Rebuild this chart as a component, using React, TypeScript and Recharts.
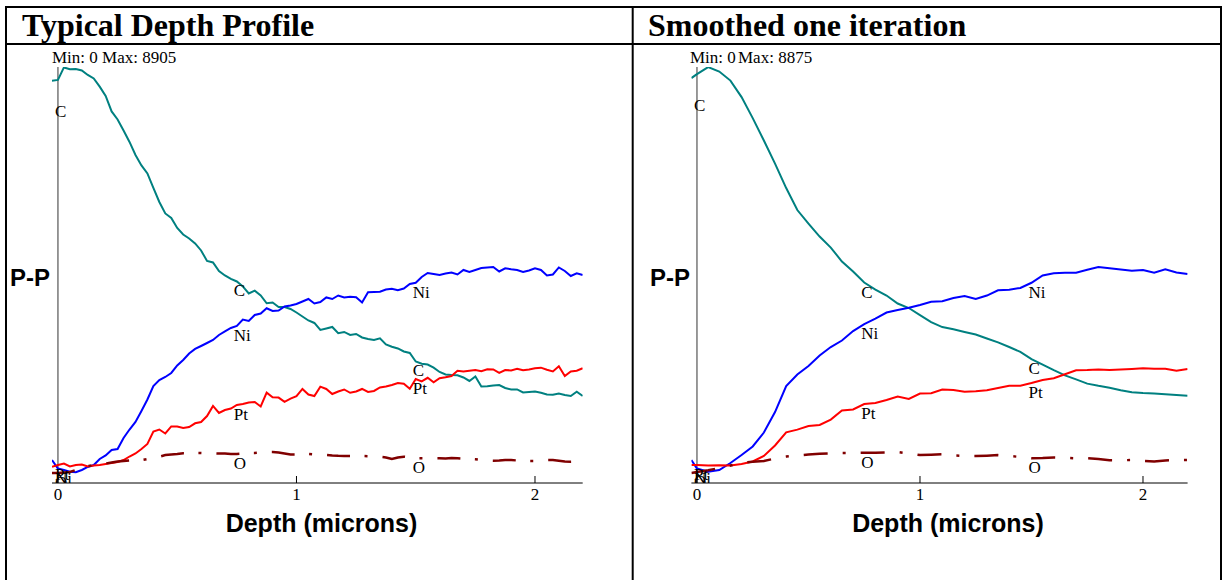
import React from 'react';
import { LineChart, Line, XAxis, YAxis, ReferenceLine } from 'recharts';

// raw profile, sampled every 0.025 micron
const rawDepth = [
  -0.025, 0, 0.025, 0.05, 0.075, 0.1, 0.125, 0.15, 0.175, 0.2,
  0.225, 0.25, 0.275, 0.3, 0.325, 0.35, 0.375, 0.4, 0.425, 0.45,
  0.475, 0.5, 0.525, 0.55, 0.575, 0.6, 0.625, 0.65, 0.675, 0.7,
  0.725, 0.75, 0.775, 0.8, 0.825, 0.85, 0.875, 0.9, 0.925, 0.95,
  0.975, 1, 1.025, 1.05, 1.075, 1.1, 1.125, 1.15, 1.175, 1.2,
  1.225, 1.25, 1.275, 1.3, 1.325, 1.35, 1.375, 1.4, 1.425, 1.45,
  1.475, 1.5, 1.525, 1.55, 1.575, 1.6, 1.625, 1.65, 1.675, 1.7,
  1.725, 1.75, 1.775, 1.8, 1.825, 1.85, 1.875, 1.9, 1.925, 1.95,
  1.975, 2, 2.025, 2.05, 2.075, 2.1, 2.125, 2.15, 2.175, 2.2,
];
const rawC = [
  8613, 8628, 8896, 8857, 8864, 8832, 8735, 8660, 8485, 8286,
  7954, 7783, 7547, 7301, 7022, 6798, 6626, 6316, 6016, 5770,
  5674, 5460, 5320, 5235, 5128, 4978, 4753, 4721, 4539, 4443,
  4368, 4314, 4207, 4057, 4117, 4014, 3847, 3865, 3768, 3768,
  3725, 3650, 3565, 3479, 3426, 3276, 3308, 3340, 3205, 3233,
  3169, 3190, 3115, 3083, 3062, 3098, 2965, 2918, 2880, 2815,
  2783, 2601, 2554, 2535, 2469, 2377, 2323, 2312, 2306, 2259,
  2184, 2280, 2066, 2072, 2087, 2098, 2034, 2002, 2002, 1938,
  1948, 1959, 1931, 1895, 1888, 1916, 1884, 1863, 1955, 1863,
];
const rawNi = [
  492, 310, 278, 242, 229, 278, 343, 385, 514, 589,
  707, 728, 963, 1145, 1306, 1542, 1788, 2077, 2205, 2269,
  2355, 2516, 2633, 2773, 2869, 2933, 2997, 3062, 3169, 3244,
  3319, 3361, 3500, 3468, 3597, 3629, 3740, 3683, 3693, 3779,
  3800, 3832, 3886, 3939, 3843, 3875, 3972, 3939, 4014, 3972,
  3989, 3978, 3865, 4083, 4089, 4094, 4143, 4160, 4128, 4164,
  4261, 4286, 4410, 4496, 4475, 4453, 4485, 4507, 4464, 4560,
  4518, 4560, 4603, 4614, 4625, 4528, 4597, 4577, 4560, 4518,
  4550, 4597, 4560, 4443, 4464, 4614, 4539, 4432, 4490, 4453,
];
const rawPt = [
  349, 385, 417, 353, 385, 396, 353, 375, 385, 407,
  428, 450, 492, 567, 632, 728, 835, 1103, 1145, 1060,
  1210, 1210, 1178, 1199, 1278, 1306, 1434, 1649, 1499, 1563,
  1595, 1670, 1691, 1724, 1734, 1638, 1933, 1835, 1828, 1738,
  1807, 1858, 2013, 1895, 1861, 2062, 2013, 1905, 1959, 2002,
  1931, 1959, 2013, 1948, 1970, 2045, 2066, 2098, 2141, 2124,
  2017, 2227, 2175, 2252, 2154, 2242, 2263, 2291, 2402, 2387,
  2402, 2417, 2394, 2434, 2430, 2355, 2419, 2409, 2445, 2413,
  2430, 2456, 2469, 2424, 2389, 2499, 2291, 2387, 2402, 2456,
];
const rawO = [
  214, 214, 225, 236, 278, 321, 364, 385, 407, 418,
  439, 460, 471, 482, 482, 492, 514, 546, 563, 599,
  610, 621, 636, 638, 642, 642, 636, 636, 632, 632,
  621, 621, 632, 642, 642, 653, 664, 664, 653, 632,
  610, 610, 621, 621, 610, 599, 599, 589, 582, 578,
  578, 578, 578, 574, 567, 563, 546, 514, 546, 563,
  546, 529, 529, 529, 529, 529, 525, 535, 529, 518,
  514, 507, 492, 482, 478, 482, 492, 492, 482, 471,
  471, 471, 482, 492, 492, 475, 460, 456, 460, 460,
];

// smoothed profile, sampled every 0.05 micron
const smoothDepth = [
  -0.025, 0, 0.05, 0.1, 0.15, 0.2, 0.25, 0.3, 0.35, 0.4,
  0.45, 0.5, 0.55, 0.6, 0.65, 0.7, 0.75, 0.8, 0.85, 0.9,
  0.95, 1, 1.05, 1.1, 1.15, 1.2, 1.25, 1.3, 1.35, 1.4,
  1.45, 1.5, 1.55, 1.6, 1.65, 1.7, 1.75, 1.8, 1.85, 1.9,
  1.95, 2, 2.05, 2.1, 2.15, 2.2,
];
const smoothC = [
  8639, 8724, 8873, 8777, 8585, 8233, 7785, 7306, 6815, 6292,
  5823, 5535, 5258, 5023, 4725, 4511, 4277, 4127, 3999, 3829,
  3733, 3583, 3434, 3327, 3281, 3223, 3168, 3084, 3001, 2901,
  2798, 2645, 2525, 2406, 2297, 2210, 2120, 2073, 2033, 1979,
  1937, 1920, 1909, 1894, 1875, 1860,
];
const smoothNi = [
  491, 309, 241, 277, 427, 597, 779, 1077, 1514, 2069,
  2314, 2496, 2720, 2901, 3040, 3242, 3391, 3509, 3637, 3690,
  3737, 3797, 3867, 3878, 3946, 3991, 3925, 3999, 4110, 4125,
  4162, 4272, 4428, 4473, 4484, 4486, 4548, 4607, 4580, 4556,
  4530, 4543, 4486, 4558, 4492, 4458,
];
const smoothPt = [
  384, 384, 373, 378, 371, 405, 459, 576, 800, 1081,
  1139, 1216, 1237, 1354, 1546, 1568, 1685, 1706, 1770, 1845,
  1792, 1909, 1915, 1994, 1984, 1947, 1956, 1977, 2026, 2075,
  2075, 2133, 2197, 2235, 2321, 2406, 2410, 2423, 2410, 2419,
  2432, 2447, 2440, 2436, 2395, 2432,
];
const smoothO = [
  213, 235, 271, 320, 373, 435, 452, 469, 523, 563,
  587, 606, 623, 634, 640, 640, 644, 646, 651, 661,
  629, 597, 604, 612, 587, 576, 576, 584, 595, 576,
  555, 529, 533, 544, 538, 527, 527, 512, 486, 484,
  491, 469, 459, 480, 491, 491,
];

const depthTicks = [0, 1, 2];
const labelDepths = [0, 0.75, 1.5];

const SERIF = '"Liberation Serif", "Times New Roman", serif';
const SANS = '"Liberation Sans", Arial, sans-serif';

const series = [
  { key: 'C', color: '#008080', dashed: false },
  { key: 'Ni', color: '#0000ff', dashed: false },
  { key: 'Pt', color: '#ff0000', dashed: false },
  { key: 'O', color: '#800000', dashed: true },
];

function buildRows(depth: number[], c: number[], ni: number[], pt: number[], o: number[]) {
  return depth.map((d, i) => ({ depth: d, C: c[i], Ni: ni[i], Pt: pt[i], O: o[i] }));
}

const rawRows = buildRows(rawDepth, rawC, rawNi, rawPt, rawO);
const smoothRows = buildRows(smoothDepth, smoothC, smoothNi, smoothPt, smoothO);

// element name written just under the curve at a few depths
function makeTag(name: string) {
  return (props: any) => {
    const { cx, cy, payload, index } = props;
    if (!labelDepths.includes(payload.depth)) return <g key={`n${index}`} />;
    // the C tag at the surface sits lower in the original
    const dy = name === 'C' && payload.depth === 0 ? 37 : 15;
    return (
      <text key={`t${index}`} x={cx - 3} y={cy + dy} fontFamily={SERIF} fontSize={17} fill="#000">
        {name}
      </text>
    );
  };
}

function DepthTick(props: any) {
  const { x, y, payload } = props;
  return (
    <text x={x} y={y + 12} textAnchor="middle" fontFamily={SERIF} fontSize={17} fill="#000">
      {payload.value}
    </text>
  );
}

interface PanelProps {
  rows: any[];
  max: number;
  width: number;
  left: number;
  right: number;
  dashArray: string;
}

function Panel({ rows, max, width, left, right, dashArray }: PanelProps) {
  return (
    <LineChart width={width} height={580} data={rows} margin={{ top: 67, right, bottom: 67, left }}>
      <XAxis
        dataKey="depth"
        type="number"
        domain={[-0.025, 2.2]}
        ticks={depthTicks}
        allowDataOverflow
        height={30}
        tickSize={-7}
        tickMargin={12}
        stroke="#000"
        tick={<DepthTick />}
      />
      <YAxis hide type="number" domain={[0, max]} allowDataOverflow />
      <ReferenceLine x={0} stroke="#333" strokeWidth={1} />
      {series.map((s) => (
        <Line
          key={s.key}
          dataKey={s.key}
          type="linear"
          stroke={s.color}
          strokeWidth={s.dashed ? 2.5 : 2}
          strokeDasharray={s.dashed ? dashArray : undefined}
          dot={makeTag(s.key)}
          activeDot={false}
          isAnimationActive={false}
        />
      ))}
    </LineChart>
  );
}

export default function App() {
  return (
    <div style={{ position: 'absolute', left: 0, top: 0, width: 1223, height: 580, background: '#fff' }}>
      <svg width={1223} height={580} style={{ position: 'absolute', left: 0, top: 0 }}>
        <g stroke="#000" strokeWidth={2}>
          <line x1={6} y1={6} x2={6} y2={580} />
          <line x1={5} y1={7} x2={1222} y2={7} />
          <line x1={5} y1={44} x2={1222} y2={44} />
          <line x1={632.7} y1={6} x2={632.7} y2={580} />
          <line x1={1221} y1={6} x2={1221} y2={580} />
        </g>
        <g fontFamily={SERIF} fontWeight="bold" fontSize={32} fill="#000">
          <text x={22} y={36}>Typical Depth Profile</text>
          <text x={648} y={36}>Smoothed one iteration</text>
        </g>
        <g fontFamily={SERIF} fontSize={17} fill="#000">
          <text x={52} y={63}>Min: 0 Max: 8905</text>
          <text x={690} y={63}>Min: 0</text>
          <text x={738} y={63}>Max: 8875</text>
        </g>
        <g fontFamily={SANS} fontWeight="bold" fill="#000">
          <text x={10} y={285.7} fontSize={24}>P-P</text>
          <text x={650} y={285.7} fontSize={24}>P-P</text>
          <text x={321.5} y={531.7} fontSize={25} textAnchor="middle">Depth (microns)</text>
          <text x={948} y={531.7} fontSize={25} textAnchor="middle">Depth (microns)</text>
        </g>
      </svg>
      <div style={{ position: 'absolute', left: 0, top: 0 }}>
        <Panel rows={rawRows} max={8905} width={633} left={52} right={50.3} dashArray="23 14.5 3 15" />
      </div>
      <div style={{ position: 'absolute', left: 633, top: 0 }}>
        <Panel rows={smoothRows} max={8875} width={590} left={58.4} right={35.4} dashArray="24 15 3 15" />
      </div>
    </div>
  );
}
